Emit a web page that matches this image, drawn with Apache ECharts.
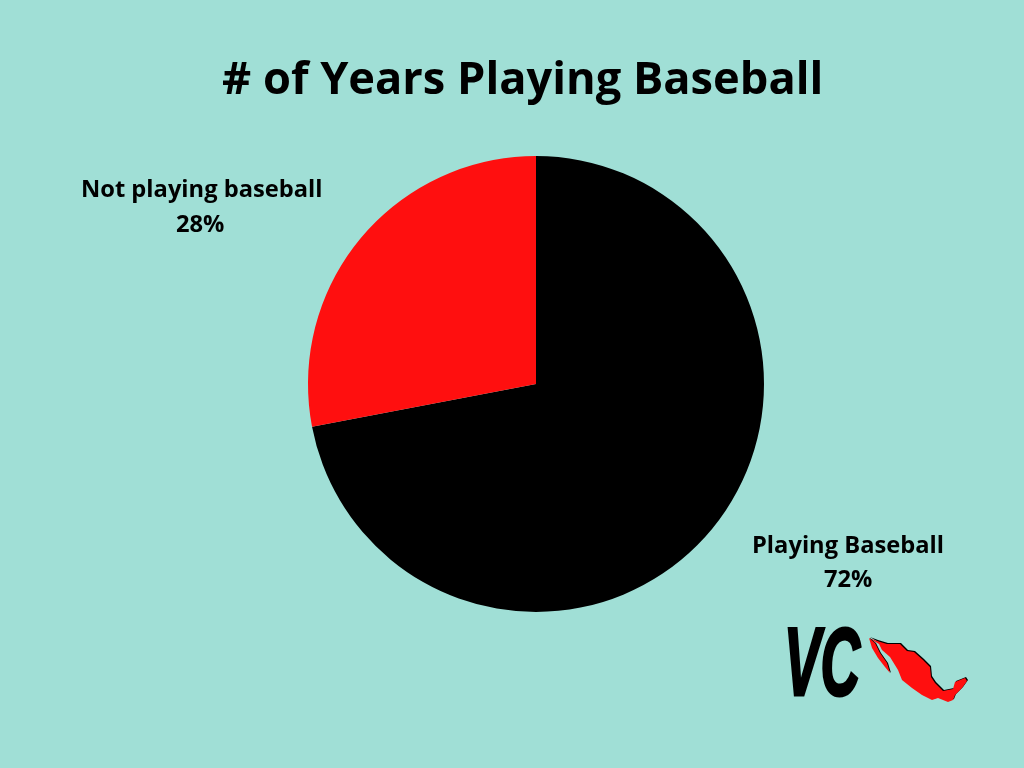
<!DOCTYPE html>
<html>
<head>
<meta charset="utf-8">
<style>
  html, body { margin: 0; padding: 0; background: #a0dfd6; }
  #main { width: 1024px; height: 768px; }
</style>
<script src="https://cdn.jsdelivr.net/npm/echarts@6/dist/echarts.min.js"></script>
</head>
<body>
<div id="main"></div>
<script>
var titleText = "# of Years Playing Baseball";
var categories = ["Playing Baseball", "Not playing baseball"];
var shares = [72, 28];
var colors = ["#000000", "#ff0f0f"];
var logoText = "VC";
// logo outlines, only decoration (not data)
var mexicoMainland = [
  [869, 638], [877, 641], [887, 644], [900, 644], [907, 651], [914, 652], [923, 660],
  [930, 667], [931, 677], [935, 683], [943, 691], [953, 689], [955, 682], [965, 678],
  [967, 681], [962, 688], [955, 695], [953, 700], [948, 702], [938, 698], [932, 700],
  [922, 695], [912, 688], [902, 680], [898, 670], [890, 657], [882, 650], [879, 644]
];
var mexicoBaja = [
  [869, 638], [872, 648], [878, 658], [885, 667], [890, 673], [887, 663], [880, 653], [875, 643]
];

var labelFont = "bold 23.7px 'Open Sans'";

var chart = echarts.init(document.getElementById("main"));
chart.setOption({
  backgroundColor: "#a0dfd6",
  animation: false,
  title: {
    text: titleText,
    left: 217,
    top: 54,
    textStyle: { fontFamily: "Open Sans", fontWeight: "bold", fontSize: 45.2, color: "#000" }
  },
  graphic: [
    { type: "text", left: 81, top: 178, style: { text: categories[1], font: labelFont, fill: "#000" } },
    { type: "text", left: 176, top: 213, style: { text: shares[1] + "%", font: labelFont, fill: "#000" } },
    { type: "text", left: 752, top: 534, style: { text: categories[0], font: labelFont, fill: "#000" } },
    { type: "text", left: 824, top: 568, style: { text: shares[0] + "%", font: labelFont, fill: "#000" } },
    {
      type: "text",
      x: 784, y: 621,
      scaleX: 0.57,
      style: {
        text: logoText,
        font: "italic bold 96px 'Liberation Sans'",
        fill: "#000",
        stroke: "#000",
        lineWidth: 3
      }
    },
    { type: "polygon", x: 1, y: -1, shape: { points: mexicoMainland }, style: { fill: "#000" } },
    { type: "polygon", shape: { points: mexicoMainland }, style: { fill: "#ff0f0f" } },
    { type: "polygon", x: 1, y: 0, shape: { points: mexicoBaja }, style: { fill: "#000" } },
    { type: "polygon", shape: { points: mexicoBaja }, style: { fill: "#ff0f0f" } }
  ],
  series: [
    {
      type: "pie",
      center: [536, 384],
      radius: [0, 228],
      startAngle: 90,
      clockwise: true,
      label: { show: false },
      labelLine: { show: false },
      data: categories.map(function (name, i) {
        return { name: name, value: shares[i], itemStyle: { color: colors[i] } };
      })
    }
  ]
});
</script>
</body>
</html>
